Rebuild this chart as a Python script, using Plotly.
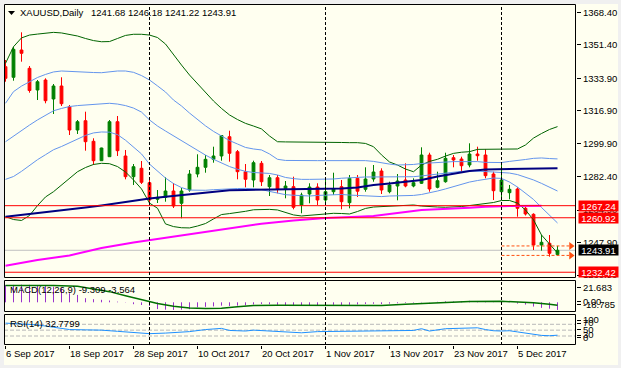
import plotly.graph_objects as go

# ---------------- data ----------------
DATES = ["2017-09-06","2017-09-07","2017-09-08","2017-09-11","2017-09-12","2017-09-13","2017-09-14","2017-09-15",
         "2017-09-18","2017-09-19","2017-09-20","2017-09-21","2017-09-22","2017-09-25","2017-09-26","2017-09-27",
         "2017-09-28","2017-09-29",
         "2017-10-02","2017-10-03","2017-10-04","2017-10-05","2017-10-06","2017-10-09","2017-10-10","2017-10-11",
         "2017-10-12","2017-10-13","2017-10-16","2017-10-17","2017-10-18","2017-10-19","2017-10-20","2017-10-23",
         "2017-10-24","2017-10-25","2017-10-26","2017-10-27","2017-10-30","2017-10-31",
         "2017-11-01","2017-11-02","2017-11-03","2017-11-06","2017-11-07","2017-11-08","2017-11-09","2017-11-10",
         "2017-11-13","2017-11-14","2017-11-15","2017-11-16","2017-11-17","2017-11-20","2017-11-21","2017-11-22",
         "2017-11-23","2017-11-24","2017-11-27","2017-11-28","2017-11-29","2017-11-30",
         "2017-12-01","2017-12-04","2017-12-05","2017-12-06","2017-12-07","2017-12-08","2017-12-11","2017-12-12"]

OPEN = [1339.94, 1334.40, 1348.68, 1339.10, 1327.75, 1332.98, 1323.05, 1329.85, 1319.02, 1306.82,
        1311.69, 1300.92, 1290.77, 1292.86, 1311.17, 1293.23, 1282.40, 1286.79, 1279.26, 1270.58,
        1271.62, 1274.92, 1268.48, 1275.44, 1283.81, 1287.31, 1291.50, 1293.23, 1303.32, 1295.48,
        1285.02, 1280.67, 1289.41, 1277.17, 1281.87, 1276.12, 1277.17, 1267.60, 1273.35, 1277.00,
        1270.21, 1274.55, 1277.17, 1268.80, 1281.56, 1275.81, 1281.19, 1285.38, 1274.55, 1277.53,
        1280.67, 1277.53, 1278.95, 1293.75, 1276.85, 1279.78, 1292.34, 1291.66, 1288.52, 1294.27,
        1293.75, 1283.81, 1274.55, 1274.03, 1275.97, 1265.87, 1262.73, 1246.67, 1247.56, 1241.68]
HIGH = [1343.45, 1350.40, 1357.94, 1340.31, 1332.98, 1333.87, 1330.89, 1334.40, 1319.91, 1312.06,
        1316.40, 1302.49, 1297.57, 1312.06, 1314.15, 1296.37, 1289.04, 1290.61, 1280.67, 1275.44,
        1282.08, 1279.10, 1276.49, 1285.90, 1294.11, 1293.75, 1298.09, 1304.21, 1306.46, 1296.37,
        1289.04, 1290.77, 1290.61, 1283.29, 1283.29, 1280.15, 1282.40, 1274.03, 1278.95, 1278.95,
        1281.04, 1284.49, 1280.67, 1283.29, 1283.29, 1287.31, 1288.52, 1286.79, 1279.78, 1283.81,
        1289.41, 1281.56, 1297.78, 1294.95, 1285.02, 1294.95, 1293.75, 1292.86, 1299.87, 1298.09,
        1296.73, 1285.02, 1289.41, 1278.06, 1276.85, 1266.70, 1263.25, 1251.90, 1251.90, 1246.18]
LOW = [1332.09, 1332.62, 1342.56, 1326.34, 1322.52, 1320.79, 1315.20, 1319.38, 1304.21, 1304.74,
       1296.00, 1288.52, 1290.61, 1292.70, 1293.23, 1281.04, 1278.06, 1278.58, 1268.80, 1268.64,
       1269.32, 1266.02, 1260.63, 1274.55, 1282.08, 1284.49, 1289.72, 1290.77, 1290.25, 1281.04,
       1276.85, 1276.85, 1277.53, 1272.30, 1273.72, 1271.10, 1265.34, 1263.25, 1268.48, 1267.60,
       1267.60, 1272.83, 1265.34, 1265.87, 1271.78, 1274.55, 1279.78, 1273.35, 1273.72, 1270.05,
       1276.85, 1276.85, 1278.58, 1274.55, 1276.32, 1279.26, 1287.31, 1285.02, 1287.31, 1290.77,
       1281.56, 1270.21, 1270.21, 1270.58, 1261.47, 1262.10, 1244.05, 1243.69, 1240.55, 1241.22]
CLOSE = [1333.87, 1349.04, 1346.95, 1327.49, 1332.09, 1322.16, 1329.85, 1320.58, 1306.82, 1311.17,
         1300.71, 1290.77, 1297.41, 1311.17, 1296.00, 1282.40, 1287.63, 1279.47, 1270.21, 1271.62,
         1274.92, 1267.07, 1274.92, 1283.81, 1287.31, 1291.50, 1293.23, 1303.95, 1294.64, 1285.02,
         1281.04, 1289.72, 1279.78, 1281.87, 1275.81, 1277.53, 1266.39, 1272.83, 1277.00, 1270.21,
         1274.55, 1276.23, 1269.32, 1281.56, 1274.81, 1281.19, 1284.86, 1275.44, 1278.06, 1280.15,
         1277.53, 1279.26, 1293.75, 1275.97, 1280.31, 1292.02, 1291.14, 1288.15, 1294.27, 1293.38,
         1282.92, 1275.08, 1280.67, 1275.81, 1265.87, 1262.89, 1246.67, 1248.08, 1242.33, 1243.91]

GREEN_UPPER = [1341.7, 1350.4, 1355.0, 1356.5, 1357.0, 1357.4, 1357.9, 1357.6, 1356.9, 1356.0,
               1354.7, 1353.6, 1353.0, 1353.1, 1354.7, 1356.3, 1356.9, 1356.9, 1356.5, 1355.2,
               1351.8, 1346.1, 1340.8, 1335.6, 1330.9, 1326.7, 1322.0, 1318.1, 1314.7, 1312.3,
               1310.3, 1308.9, 1307.4, 1303.7, 1300.7, 1300.6, 1300.6, 1300.5, 1300.5, 1300.4,
               1300.4, 1300.4, 1300.3, 1300.2, 1300.2, 1299.8, 1298.1, 1293.8, 1290.1, 1288.5,
               1286.4, 1285.0, 1288.5, 1290.4, 1291.5, 1293.2, 1294.6, 1295.2, 1295.5, 1296.7,
               1296.7, 1296.7, 1296.7, 1296.7, 1296.9, 1299.0, 1302.6, 1305.0, 1307.1, 1308.6]
BLUE_UPPER = [1320.8, 1326.9, 1329.8, 1332.2, 1334.3, 1335.9, 1337.2, 1337.7, 1337.4, 1337.2,
              1337.0, 1336.9, 1336.8, 1337.2, 1337.7, 1337.7, 1337.0, 1335.3, 1333.0, 1329.9,
              1326.7, 1322.5, 1319.4, 1315.7, 1312.1, 1309.0, 1306.1, 1303.7, 1301.3, 1299.5,
              1297.7, 1296.9, 1296.4, 1294.3, 1291.5, 1290.9, 1290.8, 1290.8, 1290.8, 1290.8,
              1290.8, 1290.8, 1290.8, 1290.8, 1290.8, 1290.8, 1290.4, 1289.6, 1289.0, 1288.5,
              1288.5, 1288.8, 1289.3, 1289.6, 1289.9, 1290.3, 1290.3, 1290.3, 1290.3, 1290.3,
              1289.9, 1289.7, 1289.8, 1290.4, 1290.8, 1291.4, 1292.0, 1292.2, 1291.9, 1291.7]
BLUE_MID = [1300.7, 1303.7, 1306.8, 1309.4, 1312.1, 1314.7, 1316.9, 1318.1, 1319.1, 1319.6,
            1319.9, 1320.3, 1320.6, 1320.8, 1320.4, 1319.6, 1318.3, 1316.2, 1312.1, 1308.9,
            1306.3, 1303.7, 1301.3, 1298.7, 1296.1, 1293.7, 1291.5, 1289.6, 1287.7, 1286.3,
            1285.2, 1284.6, 1284.3, 1284.1, 1283.3, 1282.0, 1281.4, 1281.0, 1281.0, 1281.0,
            1281.0, 1281.2, 1281.6, 1281.9, 1282.0, 1282.25, 1282.25, 1282.25, 1282.5, 1282.4,
            1282.25, 1282.4, 1282.8, 1283.3, 1283.9, 1284.3, 1284.85, 1285.2, 1285.4, 1285.4,
            1285.1, 1284.85, 1284.6, 1284.3, 1283.5, 1282.25, 1280.7, 1278.9, 1277.0, 1274.9]
BLUE_LOWER = [1281.0, 1282.5, 1285.2, 1288.4, 1291.3, 1293.9, 1296.5, 1298.2, 1300.2, 1301.9,
              1304.0, 1305.3, 1305.8, 1305.7, 1304.4, 1301.5, 1297.7, 1294.3, 1289.0, 1285.1,
              1281.7, 1278.8, 1276.7, 1275.4, 1275.2, 1275.3, 1275.6, 1275.9, 1276.0, 1276.2,
              1276.3, 1276.1, 1275.7, 1274.7, 1273.7, 1273.0, 1272.7, 1272.4, 1272.3, 1272.6,
              1272.8, 1273.0, 1273.1, 1272.8, 1272.6, 1272.1, 1271.9, 1272.0, 1272.3, 1272.3,
              1272.3, 1272.6, 1273.1, 1273.9, 1274.9, 1276.0, 1277.3, 1278.6, 1279.6, 1280.4,
              1281.2, 1281.7, 1281.5, 1279.6, 1277.0, 1273.9, 1270.5, 1266.3, 1262.1, 1258.2]
GREEN_LOWER = [1261.5, 1260.0, 1259.5, 1262.1, 1267.3, 1271.8, 1274.55, 1278.05, 1281.45, 1285.0,
               1287.2, 1288.8, 1289.4, 1289.2, 1287.7, 1284.85, 1280.7, 1276.0, 1268.6, 1265.9,
               1257.7, 1256.3, 1255.7, 1255.6, 1256.6, 1257.9, 1260.3, 1262.6, 1263.1, 1263.6,
               1264.3, 1265.1, 1265.35, 1265.3, 1265.0, 1263.8, 1262.4, 1261.85, 1262.2, 1262.9,
               1263.1, 1263.25, 1263.15, 1262.9, 1264.2, 1265.8, 1266.55, 1266.8, 1267.05, 1267.2,
               1267.4, 1267.6, 1267.05, 1266.65, 1266.55, 1266.4, 1266.45, 1266.8, 1267.3, 1267.75,
               1268.1, 1268.9, 1269.95, 1269.95, 1268.6, 1265.0, 1259.8, 1251.9, 1247.2, 1242.5]
NAVY_IDX = [0, 2, 4, 6, 8, 10, 12, 14, 16, 18, 20, 22, 24, 26, 28, 30, 34, 38, 42, 44, 46, 48, 50,
            52, 54, 56, 58, 60, 62, 64, 69]
NAVY_VAL = [1261.5, 1262.4, 1263.4, 1264.2, 1265.25, 1266.3, 1267.35, 1268.6, 1269.7, 1271.0,
            1271.9, 1272.8, 1273.6, 1274.65, 1275.3, 1275.45, 1275.6, 1275.8, 1276.2, 1276.75,
            1278.1, 1278.85, 1279.65, 1280.7, 1282.5, 1284.1, 1285.4, 1286.2, 1286.4, 1286.5, 1286.8]
MAGENTA_IDX = [0, 4, 8, 12, 16, 20, 24, 28, 32, 36, 40, 44, 46, 48, 50, 52, 54, 56, 58, 60, 62, 67]
MAGENTA_VAL = [1235.85, 1238.8, 1241.2, 1245.1, 1248.0, 1250.45, 1252.7, 1255.3, 1257.8, 1259.5,
               1260.8, 1261.5, 1261.85, 1262.9, 1263.9, 1265.0, 1265.35, 1265.6, 1266.2, 1266.7,
               1267.0, 1267.2]

RED_LEVELS = [1267.24, 1260.92, 1232.42]
PRICE_TICKS = [1368.40, 1351.40, 1333.90, 1316.90, 1299.90, 1282.40, 1264.90, 1247.90, 1230.90]
TICK_DATES = ["2017-09-06", "2017-09-18", "2017-09-28", "2017-10-10", "2017-10-20",
              "2017-11-01", "2017-11-13", "2017-11-23", "2017-12-05"]
TICK_LABELS = ["6 Sep 2017", "18 Sep 2017", "28 Sep 2017", "10 Oct 2017", "20 Oct 2017",
               "1 Nov 2017", "13 Nov 2017", "23 Nov 2017", "5 Dec 2017"]
SEPARATOR_DATES = ["2017-10-02", "2017-11-01", "2017-12-01"]

MACD_HIST = [21.0, 21.2, 21.5, 21.3, 20.6, 19.8, 19.0, 17.2, 11.0, 9.0,
             5.0, 3.8, 3.0, 2.2, 0.8, 0.3, -2.3, -3.3, -4.4, -8.3,
             -9.0, -9.3, -9.0, -8.4, -6.0, -5.6, -5.0, -4.1, -4.5, -4.1,
             -3.6, -2.6, -2.0, -2.4, -3.0, -3.6, -3.2, -3.6, -3.5, -3.8,
             -3.2, -3.0, -3.2, -3.0, -2.6, -2.0, -1.8, -2.2, -1.6, -1.2,
             -0.8, -0.6, 0.4, 0.2, 0.6, 1.2, 1.0, 1.4, 1.8, 1.6,
             0.8, 0.2, 0.5, -0.4, -1.6, -2.8, -5.2, -6.8, -7.8, -9.309]
MACD_SIGNAL_IDX = [0, 3, 6, 9, 11, 13, 15, 17, 19, 21, 23, 25, 27, 29, 31, 34, 38, 43, 47, 50,
                   53, 56, 58, 62, 64, 66, 68, 69]
MACD_SIGNAL_VAL = [20.5, 20.8, 20.6, 19.5, 16.5, 13.0, 8.0, 3.0, -1.5, -4.8, -6.8, -7.5, -7.2, -5.5,
                   -3.8, -3.6, -3.8, -4.0, -3.8, -2.5, -1.2, 0.3, 1.0, 1.2, 0.8, -0.5, -2.4, -3.564]
MACD_TICK_TEXT = ["21.683", "0.00", "-18.785"]

RSI_IDX = [0, 2, 4, 6, 8, 10, 12, 14, 16, 18, 20, 21, 23, 25, 27, 28, 30, 31, 33, 35,
           37, 39, 41, 43, 45, 47, 49, 51, 52, 53, 55, 57, 59, 60, 61, 62, 63, 64, 65, 66,
           67, 68, 69]
RSI_VAL = [74, 72, 68, 60, 52, 51, 50, 46, 42, 38, 40, 41, 45, 52, 56, 49, 47, 50, 47, 42,
           41, 45, 46, 46, 48, 47, 48, 49, 55, 47, 55, 57, 58, 52, 48, 47, 48, 44, 40, 34,
           32, 31, 32.7799]
RSI_LEVELS = [70, 50, 30]
RSI_TICK_TEXT = ["100", "70", "50", "30", "0"]

SYMBOL = "XAUUSD,Daily"

# ---------------- geometry (pixels of the 621x368 page) ----------------
W, H = 621, 368
ML, MR, MT, MB = 4, 45, 4, 23
PW, PH = W - ML - MR, H - MT - MB


def fx(px):
    return (px - ML) / PW


def fy(py):
    return (H - MB - py) / PH


BAR_PX = 8.0
FIRST_BAR_PX = 5.5
X0 = -(FIRST_BAR_PX - ML) / BAR_PX
X1 = X0 + PW / BAR_PX

MAIN_TOP, MAIN_BOT = 4, 278
MACD_TOP, MACD_BOT = 280, 312
RSI_TOP, RSI_BOT = 314, 345

# price scale: 1.9116 px per dollar, 1368.40 drawn at y=12.3
P_REF, P_REF_PX, P_SCALE = 1368.40, 12.3, 1.9116


def price_at(py):
    return P_REF - (py - P_REF_PX) / P_SCALE


MACD_ZERO_PX, MACD_SCALE = 302.3, 0.82
MACD_LABEL_PX = [287.8, 301.2, 304.8]
RSI_ZERO_PX, RSI_SCALE = 344.8, 0.293
RSI_LABEL_PX = [320.0, 323.0, 329.2, 335.0, 337.5]

IVORY = "#FFFFF0"
FONT = "Liberation Sans"
FS = 9.5

X = list(range(len(DATES)))

fig = go.Figure()

# candles
fig.add_trace(go.Candlestick(
    x=X, open=OPEN, high=HIGH, low=LOW, close=CLOSE,
    increasing=dict(line=dict(color="#008000", width=1), fillcolor="#008000"),
    decreasing=dict(line=dict(color="#FF0000", width=1), fillcolor="#FF0000"),
    whiskerwidth=0, xaxis="x", yaxis="y", hoverinfo="skip"))

# bands and moving averages
for vals, col, wd in [(GREEN_UPPER, "#006400", 1), (GREEN_LOWER, "#006400", 1),
                      (BLUE_UPPER, "#6495ED", 1), (BLUE_MID, "#6495ED", 1),
                      (BLUE_LOWER, "#6495ED", 1)]:
    fig.add_trace(go.Scatter(x=X, y=vals, mode="lines", line=dict(color=col, width=wd),
                             xaxis="x", yaxis="y", hoverinfo="skip"))
fig.add_trace(go.Scatter(x=NAVY_IDX, y=NAVY_VAL, mode="lines", line=dict(color="#000080", width=2),
                         xaxis="x", yaxis="y", hoverinfo="skip"))
fig.add_trace(go.Scatter(x=MAGENTA_IDX, y=MAGENTA_VAL, mode="lines", line=dict(color="#FF00FF", width=2),
                         xaxis="x", yaxis="y", hoverinfo="skip"))

# high / low dashed markers of the last day
start_idx = DATES.index(SEPARATOR_DATES[-1])
line_end = (569.0 - FIRST_BAR_PX) / BAR_PX
arrow_x = (571.0 - FIRST_BAR_PX) / BAR_PX
for lvl in [HIGH[-1], LOW[-1]]:
    fig.add_trace(go.Scatter(x=[start_idx, line_end], y=[lvl, lvl], mode="lines",
                             line=dict(color="#FF5010", width=1, dash="3px,2px"),
                             xaxis="x", yaxis="y", hoverinfo="skip"))
    fig.add_trace(go.Scatter(x=[arrow_x], y=[lvl], mode="markers",
                             marker=dict(symbol="triangle-right", size=7, color="#FF5010", line=dict(width=0)),
                             xaxis="x", yaxis="y", hoverinfo="skip", cliponaxis=False))

# MACD histogram as 1-px vertical segments from zero to the value
hx, hy = [], []
for i, v in zip(X, MACD_HIST):
    hx += [i, i, None]
    hy += [0, v, None]
fig.add_trace(go.Scatter(x=hx, y=hy, mode="lines", line=dict(color="#9932CC", width=1),
                         xaxis="x", yaxis="y2", hoverinfo="skip", connectgaps=False))
fig.add_trace(go.Scatter(x=MACD_SIGNAL_IDX, y=MACD_SIGNAL_VAL, mode="lines",
                         line=dict(color="#007000", width=1.5), xaxis="x", yaxis="y2", hoverinfo="skip"))

# RSI
fig.add_trace(go.Scatter(x=RSI_IDX, y=RSI_VAL, mode="lines", line=dict(color="#1E90FF", width=1),
                         xaxis="x", yaxis="y3", hoverinfo="skip"))

# ---------------- shapes ----------------
shapes = []
shapes.append(dict(type="rect", xref="paper", yref="paper", x0=fx(4), x1=fx(618), y0=fy(365), y1=fy(4),
                   fillcolor=IVORY, line=dict(width=0), layer="below"))
# horizontal levels
for lvl in RED_LEVELS:
    shapes.append(dict(type="line", xref="paper", yref="y", x0=0, x1=1, y0=lvl, y1=lvl,
                       line=dict(color="#FF0000", width=1), layer="above"))
shapes.append(dict(type="line", xref="paper", yref="y", x0=0, x1=1, y0=CLOSE[-1], y1=CLOSE[-1],
                   line=dict(color="#C0C0C0", width=1), layer="below"))
for lvl in RSI_LEVELS:
    shapes.append(dict(type="line", xref="paper", yref="y3", x0=0, x1=1, y0=lvl, y1=lvl,
                       line=dict(color="#B8B8B8", width=1, dash="4px,2px"), layer="below"))
# period separators
for d in SEPARATOR_DATES:
    i = DATES.index(d)
    shapes.append(dict(type="line", xref="x", yref="paper", x0=i, x1=i, y0=0, y1=1,
                       line=dict(color="#000000", width=1, dash="3px,2px"), layer="above"))
# panel frames
for top, bot in [(MAIN_TOP, MAIN_BOT), (MACD_TOP, MACD_BOT), (RSI_TOP, RSI_BOT)]:
    shapes.append(dict(type="rect", xref="paper", yref="paper", x0=fx(4.5), x1=fx(575.5),
                       y0=fy(bot - 0.5), y1=fy(top + 0.5), line=dict(color="#000000", width=1),
                       fillcolor="rgba(0,0,0,0)", layer="above"))
# small menu triangle
tri = "M {} {} L {} {} L {} {} Z".format(fx(8), fy(11), fx(15), fy(11), fx(11.5), fy(15))
shapes.append(dict(type="path", xref="paper", yref="paper", path=tri, fillcolor="#000000",
                   line=dict(width=0), layer="above"))

# ---------------- annotations ----------------
ann = []
ann.append(dict(xref="paper", yref="paper", x=fx(18), y=fy(13), xanchor="left", yanchor="middle",
                text=SYMBOL, showarrow=False, font=dict(family=FONT, size=FS, color="#000000")))
ann.append(dict(xref="paper", yref="paper", x=fx(89), y=fy(13), xanchor="left", yanchor="middle",
                text="{:.2f} {:.2f} {:.2f} {:.2f}".format(OPEN[-1], HIGH[-1], LOW[-1], CLOSE[-1]),
                showarrow=False, font=dict(family=FONT, size=FS, color="#000000")))
ann.append(dict(xref="paper", yref="paper", x=fx(8), y=fy(289), xanchor="left", yanchor="middle",
                text="MACD(12,26,9) {:.3f} {:.3f}".format(MACD_HIST[-1], MACD_SIGNAL_VAL[-1]),
                showarrow=False, font=dict(family=FONT, size=FS, color="#000000")))
ann.append(dict(xref="paper", yref="paper", x=fx(8), y=fy(323.5), xanchor="left", yanchor="middle",
                text="RSI(14) {:.4f}".format(RSI_VAL[-1]),
                showarrow=False, font=dict(family=FONT, size=FS, color="#000000")))
for lvl, bg in [(RED_LEVELS[0], "#FF0000"), (RED_LEVELS[1], "#FF0000"), (RED_LEVELS[2], "#FF0000"),
                (CLOSE[-1], "#000000")]:
    ann.append(dict(xref="paper", yref="y", x=fx(578), y=lvl, xanchor="left", yanchor="middle",
                    text="{:.2f}".format(lvl), showarrow=False, bgcolor=bg, width=39, height=10,
                    borderpad=0, font=dict(family=FONT, size=FS, color="#FFFFFF")))

# ---------------- axes ----------------
axis_font = dict(family=FONT, size=FS, color="#000000")
tick_pos = [DATES.index(d) for d in TICK_DATES]

fig.update_layout(
    width=W, height=H, autosize=False,
    margin=dict(l=ML, r=MR, t=MT, b=MB, pad=0),
    paper_bgcolor="#F0F0F0", plot_bgcolor=IVORY,
    showlegend=False, hovermode=False, boxgap=0.5,
    font=axis_font,
    xaxis=dict(domain=[0, 1], range=[X0, X1], anchor="y3", showgrid=False, zeroline=False,
               showline=False, tickmode="array", tickvals=tick_pos, ticktext=TICK_LABELS,
               ticks="outside", ticklen=3, tickcolor="#000000", tickwidth=1,
               ticklabelposition="outside right", tickfont=axis_font,
               rangeslider=dict(visible=False), fixedrange=True),
    yaxis=dict(domain=[fy(MAIN_BOT), fy(MAIN_TOP)], range=[price_at(MAIN_BOT), price_at(MAIN_TOP)],
               anchor="x", side="right", showgrid=False, zeroline=False, showline=False,
               tickmode="array", tickvals=PRICE_TICKS, ticktext=["{:.2f}".format(v) for v in PRICE_TICKS],
               ticks="outside", ticklen=4, tickcolor="#000000", tickwidth=1, tickfont=axis_font,
               fixedrange=True),
    yaxis2=dict(domain=[fy(MACD_BOT), fy(MACD_TOP)],
                range=[(MACD_ZERO_PX - MACD_BOT) / MACD_SCALE, (MACD_ZERO_PX - MACD_TOP) / MACD_SCALE],
                anchor="x", side="right", showgrid=False, zeroline=False, showline=False,
                tickmode="array", tickvals=[(MACD_ZERO_PX - p) / MACD_SCALE for p in MACD_LABEL_PX],
                ticktext=MACD_TICK_TEXT, ticks="outside", ticklen=4, tickcolor="#000000",
                tickfont=axis_font, fixedrange=True),
    yaxis3=dict(domain=[fy(RSI_BOT), fy(RSI_TOP)],
                range=[(RSI_ZERO_PX - RSI_BOT) / RSI_SCALE, (RSI_ZERO_PX - RSI_TOP) / RSI_SCALE],
                anchor="x", side="right", showgrid=False, zeroline=False, showline=False,
                tickmode="array", tickvals=[(RSI_ZERO_PX - p) / RSI_SCALE for p in RSI_LABEL_PX],
                ticktext=RSI_TICK_TEXT, ticks="outside", ticklen=4, tickcolor="#000000",
                tickfont=axis_font, fixedrange=True),
    shapes=shapes, annotations=ann,
)

fig.write_html("out.html", config={"displayModeBar": False},
               post_script="document.body.style.margin='0px';document.body.style.padding='0px';document.body.style.overflow='hidden';")
